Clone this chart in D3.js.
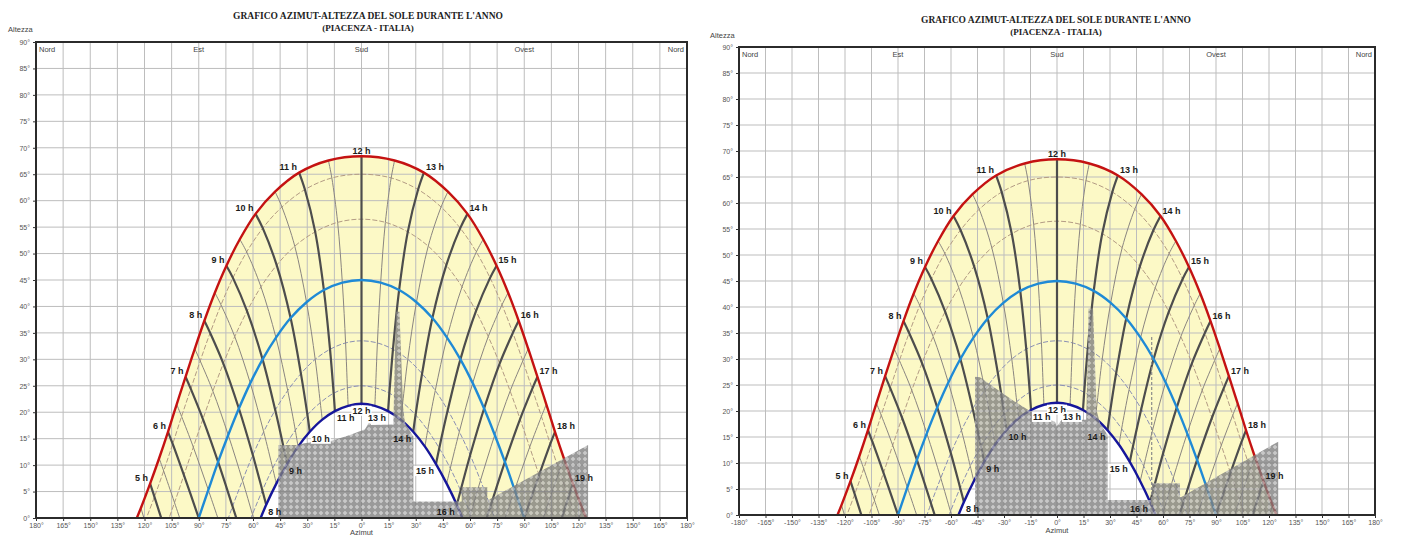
<!DOCTYPE html>
<html>
<head>
<meta charset="utf-8">
<style>
    body { margin: 0; background: #fff; }
    svg { display: block; font-family: "Liberation Sans", Arial, sans-serif; }
    .tick text { font-size: 7px; fill: #555; }
    .tick line { stroke: #333; }
    .hlab { font-size: 9px; font-weight: bold; fill: #1b1b1b; }
    .title { font-family: "Liberation Serif", "Times New Roman", serif; font-weight: bold; fill: #222; }
    .small { font-size: 7.5px; fill: #444; }
</style>
<script src="https://cdn.jsdelivr.net/npm/d3@7"></script>
</head>
<body>

<svg id="chart" width="1405" height="537"></svg>

<script>

    // sun path points: [ora solare, azimut, altezza]
    var sunJun = [[4,-127.3,-2.5],[4.5,-122.0,1.9],[5,-116.9,6.5],[5.5,-111.9,11.3],[6,-107.0,16.3],[6.5,-102.2,21.5],[7,-97.3,26.7],[7.5,-92.2,32.0],[8,-86.9,37.3],[8.5,-81.1,42.6],[9,-74.7,47.7],[9.5,-67.3,52.7],[10,-58.6,57.5],[10.5,-47.8,61.7],[11,-34.5,65.3],[11.5,-18.3,67.6],[12,0,68.4],
        [12.5,18.3,67.6],[13,34.5,65.3],[13.5,47.8,61.7],[14,58.6,57.5],[14.5,67.3,52.7],[15,74.7,47.7],[15.5,81.1,42.6],[16,86.9,37.3],[16.5,92.2,32.0],[17,97.3,26.7],[17.5,102.2,21.5],[18,107.0,16.3],[18.5,111.9,11.3],[19,116.9,6.5],[19.5,122.0,1.9],[20,127.3,-2.5]];
    var sunMay = [[4.5,-119.7,-0.7],[5,-114.5,4.0],[5.5,-109.4,8.9],[6,-104.4,14.0],[6.5,-99.5,19.2],[7,-94.4,24.4],[7.5,-89.2,29.7],[8,-83.7,35.0],[8.5,-77.7,40.3],[9,-71.1,45.4],[9.5,-63.5,50.3],[10,-54.6,54.8],[10.5,-44.0,58.8],[11,-31.3,62.1],[11.5,-16.4,64.3],[12,0,65.0],
        [12.5,16.4,64.3],[13,31.3,62.1],[13.5,44.0,58.8],[14,54.6,54.8],[14.5,63.5,50.3],[15,71.1,45.4],[15.5,77.7,40.3],[16,83.7,35.0],[16.5,89.2,29.7],[17,94.4,24.4],[17.5,99.5,19.2],[18,104.4,14.0],[18.5,109.4,8.9],[19,114.5,4.0],[19.5,119.7,-0.7]];
    var sunApr = [[5,-108.7,-2.2],[5.5,-103.4,2.9],[6,-98.2,8.1],[6.5,-93.0,13.4],[7,-87.7,18.7],[7.5,-82.2,24.0],[8,-76.4,29.2],[8.5,-70.1,34.3],[9,-63.3,39.1],[9.5,-55.6,43.7],[10,-46.9,47.8],[10.5,-36.9,51.4],[11,-25.6,54.1],[11.5,-13.2,55.9],[12,0,56.5],
        [12.5,13.2,55.9],[13,25.6,54.1],[13.5,36.9,51.4],[14,46.9,47.8],[14.5,55.6,43.7],[15,63.3,39.1],[15.5,70.1,34.3],[16,76.4,29.2],[16.5,82.2,24.0],[17,87.7,18.7],[17.5,93.0,13.4],[18,98.2,8.1],[18.5,103.4,2.9],[19,108.7,-2.2]];
    var sunMar = [[5.5,-95.3,-5.3],[6,-90.0,0.0],[6.5,-84.7,5.3],[7,-79.3,10.6],[7.5,-73.7,15.7],[8,-67.8,20.7],[8.5,-61.5,25.5],[9,-54.7,30.0],[9.5,-47.3,34.1],[10,-39.2,37.8],[10.5,-30.4,40.8],[11,-20.8,43.1],[11.5,-10.6,44.5],[12,0,45.0],
        [12.5,10.6,44.5],[13,20.8,43.1],[13.5,30.4,40.8],[14,39.2,37.8],[14.5,47.3,34.1],[15,54.7,30.0],[15.5,61.5,25.5],[16,67.8,20.7],[16.5,73.7,15.7],[17,79.3,10.6],[17.5,84.7,5.3],[18,90.0,0.0],[18.5,95.3,-5.3]];
    var sunFeb = [[6.5,-76.6,-2.9],[7,-71.3,2.2],[7.5,-65.8,7.1],[8,-60.1,11.9],[8.5,-54.1,16.3],[9,-47.7,20.4],[9.5,-40.8,24.1],[10,-33.5,27.3],[10.5,-25.6,30.0],[11,-17.4,31.9],[11.5,-8.8,33.1],[12,0,33.5],
        [12.5,8.8,33.1],[13,17.4,31.9],[13.5,25.6,30.0],[14,33.5,27.3],[14.5,40.8,24.1],[15,47.7,20.4],[15.5,54.1,16.3],[16,60.1,11.9],[16.5,65.8,7.1],[17,71.3,2.2],[17.5,76.6,-2.9]];
    var sunJan = [[7,-65.5,-4.0],[7.5,-60.3,0.7],[8,-54.8,5.2],[8.5,-49.1,9.4],[9,-43.0,13.2],[9.5,-36.6,16.6],[10,-29.9,19.5],[10.5,-22.8,21.8],[11,-15.4,23.6],[11.5,-7.8,24.6],[12,0,25.0],
        [12.5,7.8,24.6],[13,15.4,23.6],[13.5,22.8,21.8],[14,29.9,19.5],[14.5,36.6,16.6],[15,43.0,13.2],[15.5,49.1,9.4],[16,54.8,5.2],[16.5,60.3,0.7],[17,65.5,-4.0]];
    var sunDec = [[7.5,-58.0,-1.9],[8,-52.7,2.5],[8.5,-47.1,6.5],[9,-41.2,10.2],[9.5,-35.1,13.5],[10,-28.6,16.3],[10.5,-21.7,18.6],[11,-14.7,20.2],[11.5,-7.4,21.2],[12,0,21.6],
        [12.5,7.4,21.2],[13,14.7,20.2],[13.5,21.7,18.6],[14,28.6,16.3],[14.5,35.1,13.5],[15,41.2,10.2],[15.5,47.1,6.5],[16,52.7,2.5],[16.5,58.0,-1.9]];

    // ostacoli (profilo dell'orizzonte) [azimut, altezza]
    var obstacleA = [[-46.0,0],[-46.0,13.8],[-35.0,13.8],[-32.2,14.1],[-26.7,14.4],[-16.5,14.6],[-6.4,15.7],[1.9,16.8],[3.4,17.6],[4.3,18.3],[5.3,17.6],[17.6,17.7],[18.4,30],[19.1,39.0],[21.0,39.0],[22.0,30],[23.0,21],[24.1,17.9],[28.7,15.4],[28.7,3.1],[55.4,3.1],[55.4,5.8],[69.6,5.8],[69.6,3.3],[125.3,13.8],[125.3,0]];
    var obstacleB = [[-46.4,0],[-46.4,26.6],[-43.6,26.5],[-33.2,24.0],[-23.8,21.8],[-16.2,20.2],[-4.0,18.3],[-1.1,17.9],[-0.2,17.0],[2.7,18.3],[16.5,18.3],[17.4,30],[17.8,39.7],[20.4,39.7],[21.4,30],[22.5,20],[24.5,17.5],[28.7,15.4],[28.7,2.9],[53.8,2.9],[53.8,6.1],[69.6,6.1],[69.6,3.3],[125.2,14.1],[125.2,0]];
    var poleB = [[53.6,0],[53.6,34.6]];

    var azTicks = [-180,-165,-150,-135,-120,-105,-90,-75,-60,-45,-30,-15,0,15,30,45,60,75,90,105,120,135,150,165,180];
    var altTicks = [0,5,10,15,20,25,30,35,40,45,50,55,60,65,70,75,80,85,90];
    var compassNames = ["Nord", "Est", "Sud", "Ovest", "Nord"];
    var compassAz = [-180, -90, 0, 90, 180];
    var summerLabelHours = [5,6,7,8,9,10,11,12,13,14,15,16,17,18,19];
    var winterLabelHours = [8,9,10,11,12,13,14,15,16];

    var curves = [
        { pts: sunJun, color: "#c41212", width: 2.4, dash: null, main: true },
        { pts: sunMay, color: "#b39b84", width: 1, dash: "5,2", main: false },
        { pts: sunApr, color: "#b39b84", width: 1, dash: "5,2", main: false },
        { pts: sunMar, color: "#1f8ad6", width: 2.4, dash: null, main: true },
        { pts: sunFeb, color: "#8a8fb4", width: 1, dash: "5,2", main: false },
        { pts: sunJan, color: "#8a8fb4", width: 1, dash: "5,2", main: false },
        { pts: sunDec, color: "#16169a", width: 2.4, dash: null, main: true }
    ];

    var charts = [
        { id: "a", x0: 36, x1: 687, yt: 42, yb: 518, titleX: 368, titleY: 19, absTicks: true,
          obstacle: obstacleA, pole: null, onTop: [10,11,12,13,15], altX: 8, altY: 32, azY: 535 },
        { id: "b", x0: 739, x1: 1375, yt: 47, yb: 515, titleX: 1056, titleY: 23, absTicks: false,
          obstacle: obstacleB, pole: poleB, onTop: [11,12,13,15], altX: 710, altY: 38, azY: 533 }
    ];

    var svg = d3.select("#chart");
    var defs = svg.append("defs");

    var pat = defs.append("pattern")
        .attr("id", "hatch")
        .attr("width", 6).attr("height", 6)
        .attr("patternUnits", "userSpaceOnUse");
    pat.append("rect").attr("width", 6).attr("height", 6).attr("fill", "#7e7e7e");
    pat.append("path").attr("d", "M3 0.8 L5.2 3 L3 5.2 L0.8 3 Z").attr("fill", "#c4c4c4");
    pat.append("rect").attr("x", 2.5).attr("y", 2.5).attr("width", 1).attr("height", 1).attr("fill", "#9a9a9a");

    // ore presenti (mezz'ore comprese)
    var allHours = sunJun.map(function (d) { return d[0]; });

    charts.forEach(function (c) {
        var x = d3.scaleLinear().domain([-180, 180]).range([c.x0, c.x1]);
        var y = d3.scaleLinear().domain([0, 90]).range([c.yb, c.yt]);

        defs.append("clipPath").attr("id", "clip-" + c.id)
            .append("rect")
            .attr("x", c.x0).attr("y", c.yt)
            .attr("width", c.x1 - c.x0).attr("height", c.yb - c.yt);

        var g = svg.append("g");
        var plot = g.append("g").attr("clip-path", "url(#clip-" + c.id + ")");

        var sunLine = d3.line()
            .x(function (d) { return x(d[1]); })
            .y(function (d) { return y(d[2]); })
            .curve(d3.curveCatmullRom.alpha(0.5));

        // yellow band between the solstices
        var upper = sunLine(sunJun);
        var lower = sunLine(sunDec.slice().reverse()).replace(/^M/, "L");
        plot.append("path")
            .attr("d", upper + lower + "Z")
            .attr("fill", "#fcf9c6");

        // grid
        plot.selectAll(".vgrid").data(azTicks).enter().append("line")
            .attr("x1", function (d) { return x(d); }).attr("x2", function (d) { return x(d); })
            .attr("y1", c.yt).attr("y2", c.yb)
            .attr("stroke", "#bdbdbd").attr("stroke-width", 1);
        plot.selectAll(".hgrid").data(altTicks).enter().append("line")
            .attr("x1", c.x0).attr("x2", c.x1)
            .attr("y1", function (d) { return y(d); }).attr("y2", function (d) { return y(d); })
            .attr("stroke", "#bdbdbd").attr("stroke-width", 1);

        // thin day curves
        curves.filter(function (k) { return !k.main; }).forEach(function (k) {
            plot.append("path")
                .attr("d", sunLine(k.pts))
                .attr("fill", "none")
                .attr("stroke", k.color)
                .attr("stroke-width", k.width)
                .attr("stroke-dasharray", k.dash);
        });

        // hour lines
        allHours.forEach(function (h) {
            var pts = [];
            curves.forEach(function (k) {
                k.pts.forEach(function (p) { if (p[0] === h) pts.push(p); });
            });
            if (pts.length < 2) return;
            var whole = h % 1 === 0;
            plot.append("path")
                .attr("d", sunLine(pts))
                .attr("fill", "none")
                .attr("stroke", whole ? "#4d4d4d" : "#8a8580")
                .attr("stroke-width", whole ? 2.2 : 1);
        });

        // solstices and equinox
        curves.filter(function (k) { return k.main; }).forEach(function (k) {
            plot.append("path")
                .attr("d", sunLine(k.pts))
                .attr("fill", "none")
                .attr("stroke", k.color)
                .attr("stroke-width", k.width);
        });

        function label(layer, p, summer, boxed) {
            var h = p[0];
            var px = x(p[1]), py = y(p[2]);
            var anchor, dx, ty;
            if (summer) {
                anchor = h < 12 ? "end" : (h > 12 ? "start" : "middle");
                dx = h < 12 ? -2 : (h > 12 ? 2 : 0);
                ty = py - 2.5;
            } else {
                anchor = h < 12 ? "start" : (h > 12 ? "end" : "middle");
                dx = h < 12 ? 2 : (h > 12 ? -2 : 0);
                ty = py + 10;
            }
            var t = layer.append("text")
                .attr("class", "hlab")
                .attr("x", px + dx).attr("y", ty)
                .attr("text-anchor", anchor)
                .text(h + " h");
            if (boxed) {
                var b = t.node().getBBox();
                layer.insert("rect", function () { return t.node(); })
                    .attr("x", b.x - 1).attr("y", b.y)
                    .attr("width", b.width + 2).attr("height", b.height)
                    .attr("fill", "#fff");
            }
        }

        var under = g.append("g");
        sunJun.forEach(function (p) {
            if (summerLabelHours.indexOf(p[0]) >= 0) label(under, p, true, false);
        });
        sunDec.forEach(function (p) {
            if (winterLabelHours.indexOf(p[0]) >= 0 && c.onTop.indexOf(p[0]) < 0) label(under, p, false, false);
        });

        // obstacles
        var obsLine = d3.line()
            .x(function (d) { return x(d[0]); })
            .y(function (d) { return y(d[1]); });
        plot.append("path")
            .attr("d", obsLine(c.obstacle) + "Z")
            .attr("fill", "url(#hatch)")
            .attr("opacity", 0.78);
        if (c.pole) {
            plot.append("path")
                .attr("d", obsLine(c.pole))
                .attr("stroke", "#8c8c8c")
                .attr("stroke-width", 1.2)
                .attr("stroke-dasharray", "3,2");
        }

        var over = g.append("g");
        sunDec.forEach(function (p) {
            if (c.onTop.indexOf(p[0]) >= 0) label(over, p, false, true);
        });

        // frame
        g.append("rect")
            .attr("x", c.x0).attr("y", c.yt)
            .attr("width", c.x1 - c.x0).attr("height", c.yb - c.yt)
            .attr("fill", "none").attr("stroke", "#2b2b2b").attr("stroke-width", 2);

        // axes
        var xAxis = d3.axisBottom(x)
            .tickValues(azTicks)
            .tickSize(3)
            .tickPadding(2)
            .tickFormat(function (d) { return (c.absTicks ? Math.abs(d) : d) + "°"; });
        var yAxis = d3.axisLeft(y)
            .tickValues(altTicks)
            .tickSize(3)
            .tickFormat(function (d) { return d + "°"; });

        g.append("g").attr("transform", "translate(0," + c.yb + ")").call(xAxis)
            .call(function (a) { a.select(".domain").remove(); });
        g.append("g").attr("transform", "translate(" + c.x0 + ",0)").call(yAxis)
            .call(function (a) { a.select(".domain").remove(); });

        // compass names
        compassNames.forEach(function (n, i) {
            var a = compassAz[i];
            g.append("text")
                .attr("class", "small")
                .attr("x", x(a) + (i === 0 ? 3 : i === 4 ? -3 : 0))
                .attr("y", c.yt + 10)
                .attr("text-anchor", i === 0 ? "start" : i === 4 ? "end" : "middle")
                .text(n);
        });

        g.append("text").attr("class", "small")
            .attr("x", c.altX).attr("y", c.altY).text("Altezza");
        g.append("text").attr("class", "small")
            .attr("x", x(0)).attr("y", c.azY)
            .attr("text-anchor", "middle").text("Azimut");

        g.append("text").attr("class", "title")
            .attr("x", c.titleX).attr("y", c.titleY)
            .attr("text-anchor", "middle")
            .attr("font-size", 9.5)
            .text("GRAFICO AZIMUT-ALTEZZA DEL SOLE DURANTE L'ANNO");
        g.append("text").attr("class", "title")
            .attr("x", c.titleX).attr("y", c.titleY + 12)
            .attr("text-anchor", "middle")
            .attr("font-size", 9)
            .text("(PIACENZA - ITALIA)");
    });

</script>
</body>
</html>
